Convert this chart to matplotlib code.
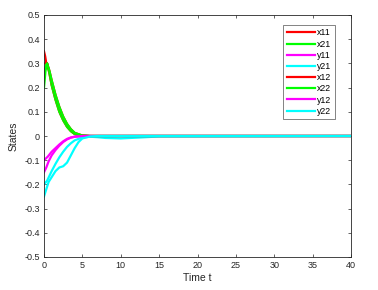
import matplotlib
matplotlib.use("Agg")
import matplotlib.pyplot as plt

plt.rcParams['font.family'] = ['Liberation Sans', 'DejaVu Sans']

# states (time, value)
t_x21 = [0, 0.2, 0.4, 0.7, 1.0, 1.5, 2.0, 2.5, 3.0, 3.5, 4.0, 5.0, 6.0, 8.0, 40]
x21 = [0.20, 0.27, 0.30, 0.26, 0.21, 0.15, 0.10, 0.065, 0.038, 0.02, 0.008, 0.001, 0.0, 0.0, 0.0]
t_x22 = [0, 0.2, 0.4, 0.7, 1.0, 1.5, 2.0, 2.5, 3.0, 3.5, 4.0, 5.0, 6.0, 8.0, 40]
x22 = [0.25, 0.29, 0.30, 0.27, 0.23, 0.17, 0.12, 0.08, 0.05, 0.028, 0.013, 0.002, 0.0, 0.0, 0.0]
# red curves sit underneath the green ones once t > 0.3
t_x11 = [0, 0.15, 0.3, 0.4] + t_x21[3:]
x11 = [0.35, 0.33, 0.30, 0.30] + x21[3:]
t_x12 = [0, 0.2, 0.4] + t_x22[3:]
x12 = [0.30, 0.30, 0.30] + x22[3:]

t_y11 = [0, 0.5, 1.0, 1.5, 2.0, 2.5, 3.0, 3.5, 4.0, 5.0, 6.0, 8.0, 40]
y11 = [-0.10, -0.085, -0.065, -0.05, -0.035, -0.022, -0.012, -0.006, -0.003, 0.0, 0.0, 0.0, 0.0]
t_y12 = [0, 0.3, 0.6, 1.0, 1.5, 2.0, 2.5, 3.0, 3.5, 4.0, 5.0, 6.0, 8.0, 40]
y12 = [-0.15, -0.13, -0.105, -0.08, -0.058, -0.04, -0.025, -0.014, -0.007, -0.003, 0.0, 0.0, 0.0, 0.0]

t_y21 = [0, 0.4, 1.0, 1.5, 2.0, 2.5, 3.0, 3.5, 4.0, 5.0, 6.0, 7.0, 8.0, 10.0, 12.0, 15.0, 40]
y21 = [-0.20, -0.185, -0.145, -0.115, -0.088, -0.065, -0.045, -0.03, -0.018, -0.006, -0.003, -0.005, -0.008, -0.01, -0.007, -0.002, 0.0]
t_y22 = [0, 0.3, 0.6, 1.0, 1.5, 2.0, 2.5, 3.0, 3.5, 4.0, 4.5, 5.0, 6.0, 7.0, 10.0, 40]
y22 = [-0.25, -0.22, -0.19, -0.17, -0.145, -0.13, -0.125, -0.11, -0.08, -0.05, -0.025, -0.01, -0.002, 0.0, 0.0, 0.0]

series = [
    ('x11', t_x11, x11, '#ff0000'),
    ('x21', t_x21, x21, '#00ff00'),
    ('y11', t_y11, y11, '#ff00ff'),
    ('y21', t_y21, y21, '#00ffff'),
    ('x12', t_x12, x12, '#ff0000'),
    ('x22', t_x22, x22, '#00ff00'),
    ('y12', t_y12, y12, '#ff00ff'),
    ('y22', t_y22, y22, '#00ffff'),
]

fig = plt.figure(figsize=(3.78, 2.9), dpi=100)
ax = fig.add_axes([44 / 378, 1 - 257 / 290, 307 / 378, 242 / 290])

for name, t, v, c in series:
    ax.plot(t, v, color=c, lw=1.6, label=name)

ax.set_xlim(0, 40)
ax.set_ylim(-0.5, 0.5)
ax.set_xticks(range(0, 41, 5))
ax.set_yticks([i / 10 for i in range(-5, 6)])
ax.set_yticklabels(['-0.5', '-0.4', '-0.3', '-0.2', '-0.1', '0', '0.1', '0.2', '0.3', '0.4', '0.5'])
ax.tick_params(direction='in', length=2.5, width=0.5, labelsize=6.5, colors='#262626',
               top=True, right=True, pad=3)
for s in ax.spines.values():
    s.set_linewidth(0.6)
    s.set_color('#262626')
ax.set_xlabel('Time t', fontsize=7.5, color='#262626', labelpad=2)
ax.set_ylabel('States', fontsize=7.5, color='#262626', labelpad=4)

leg = ax.legend(loc='upper right', bbox_to_anchor=(0.948, 0.959), borderaxespad=0,
                fontsize=6.3, frameon=True, fancybox=False, edgecolor='#262626',
                handlelength=3.2, handletextpad=0.3, labelspacing=0.25, borderpad=0.4)
leg.get_frame().set_linewidth(0.5)

fig.savefig('out.png', dpi=100)
